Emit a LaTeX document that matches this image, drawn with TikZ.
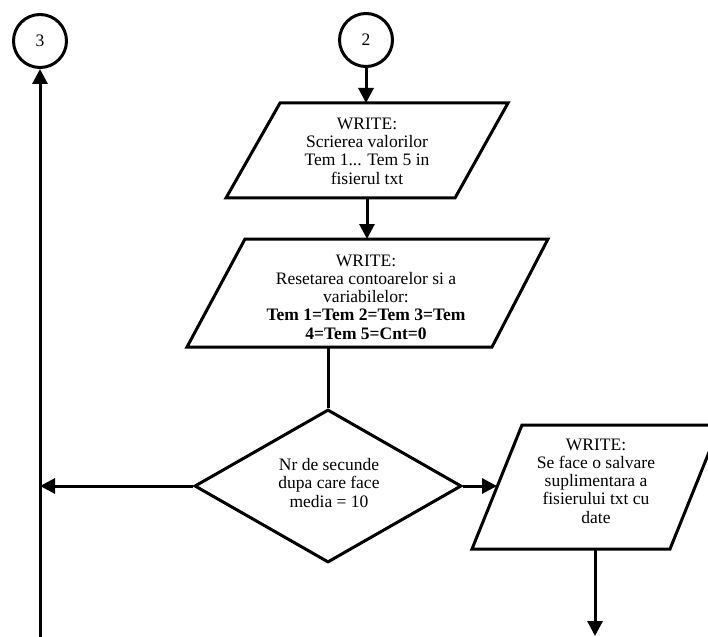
\documentclass[tikz,border=0pt]{standalone}
\usepackage{fontspec}
\setmainfont{Liberation Serif}
\usetikzlibrary{arrows.meta,shapes.geometric}
\tikzset{
  flow/.style={line width=3pt, line join=miter},
  arr/.style={flow, -{Triangle[length=15pt,width=15pt]}},
  txt/.style={align=center, font=\fontsize{17.5pt}{18.3pt}\selectfont, inner sep=0pt},
  conn/.style={draw, line width=3pt, circle, minimum size=53pt, inner sep=0pt,
               font=\fontsize{17.5pt}{18.3pt}\selectfont},
  decision/.style={draw, line width=3pt, diamond, minimum width=267pt, minimum height=153pt,
               inner sep=0pt, aspect=1.745}
}
\begin{document}
\begin{tikzpicture}[x=1pt,y=-1pt]
\useasboundingbox (0,0) rectangle (708,636);
\clip (0,0) rectangle (708,636);

% off-page connectors
\node[conn] (c3) at (40,41) {3};
\node[conn] (c2) at (366,40) {2};

% first output block
\coordinate (p1tl) at (280,103);
\coordinate (p1tr) at (508,103);
\coordinate (p1br) at (455,198);
\coordinate (p1bl) at (226,198);
\draw[flow] (p1tl) -- (p1tr) -- (p1br) -- (p1bl) -- cycle;
\node[txt] (p1) at (367,151) {WRITE:\\Scrierea valorilor\\Tem 1... Tem 5 in\\fisierul txt};
\coordinate (p1in) at (366,103);
\coordinate (p1out) at (367,198);

% second output block
\coordinate (p2tl) at (245,239);
\coordinate (p2tr) at (548,239);
\coordinate (p2br) at (492,347);
\coordinate (p2bl) at (187,347);
\draw[flow] (p2tl) -- (p2tr) -- (p2br) -- (p2bl) -- cycle;
\node[txt] (p2) at (366,297) {WRITE:\\Resetarea contoarelor si a\\variabilelor:\\\textbf{Tem 1=Tem 2=Tem 3=Tem}\\\textbf{4=Tem 5=Cnt=0}};
\coordinate (p2in) at (367,239);
\coordinate (p2out) at (328,347);

% decision
\node[decision] (d) at (328,486) {};
\node[txt] (dt) at (329,483) {Nr de secunde\\dupa care face\\media = 10};

% third output block
\coordinate (p3tl) at (522,425);
\coordinate (p3tr) at (720,425);
\coordinate (p3br) at (670,549);
\coordinate (p3bl) at (472,549);
\draw[flow] (p3tl) -- (p3tr) -- (p3br) -- (p3bl) -- cycle;
\node[txt] (p3) at (596,481) {WRITE:\\Se face o salvare\\suplimentara a\\fisierului txt cu\\date};
\coordinate (p3in) at (497,486);
\coordinate (p3out) at (595,549);
\coordinate (p3end) at (595,636);

% return line
\coordinate (back) at (40,486);
\coordinate (backbot) at (40,640);

% connectors
\draw[arr] (c2.south) -- (p1in);
\draw[arr] (p1out) -- (p2in);
\draw[flow] (p2out) -- (d.north);
\draw[arr] (d.east) -- (p3in);
\draw[arr] (d.west) -- (back);
\draw[arr] (backbot) -- (c3.south);
\draw[arr] (p3out) -- (p3end);
\end{tikzpicture}
\end{document}
